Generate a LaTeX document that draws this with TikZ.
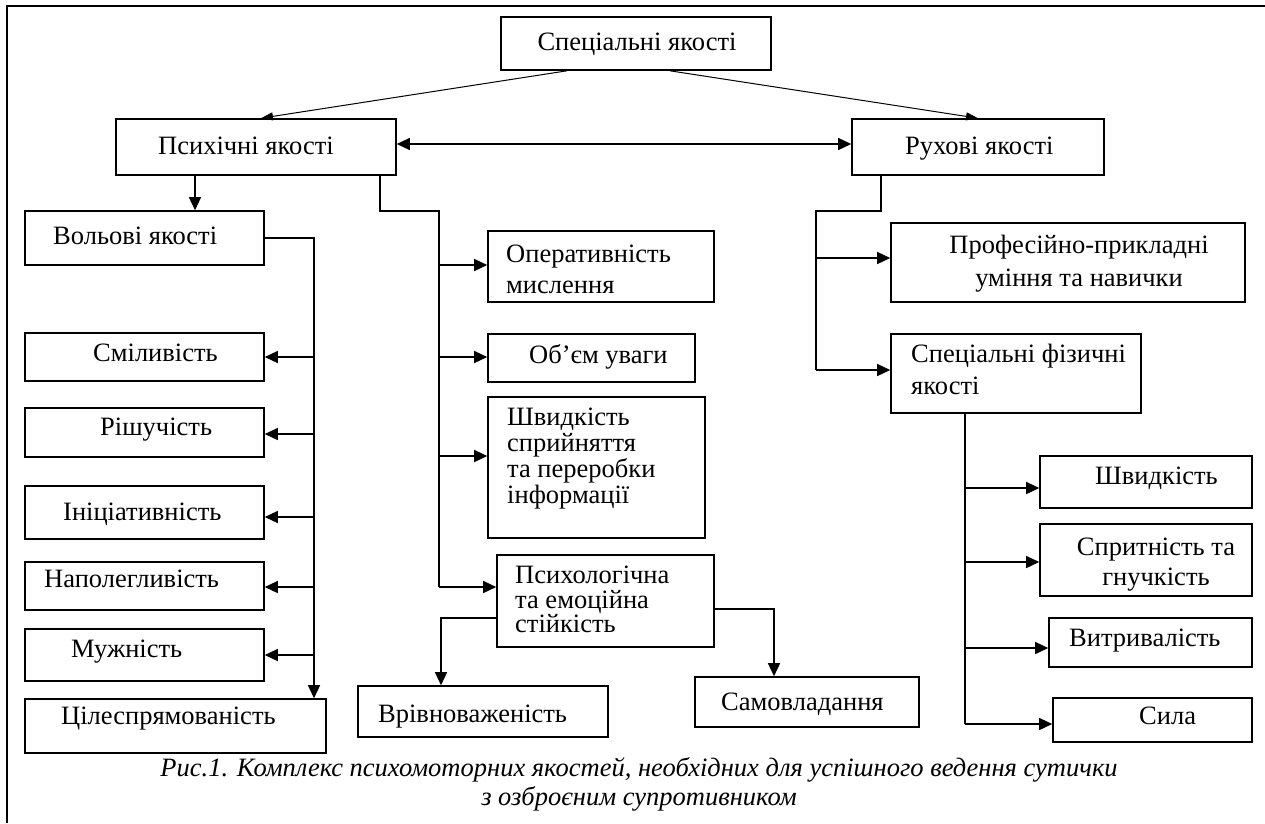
\documentclass[tikz,border=0pt]{standalone}
\usepackage{fontspec}
\setmainfont{Liberation Serif}
\usetikzlibrary{arrows.meta}
\tikzset{
  qb/.style={draw, line width=1.6pt, inner sep=0pt},
  tx/.style={inner sep=0pt, font=\fontsize{26.5}{31}\selectfont},
  con/.style={line width=1.4pt},
  arr/.style={con, -{Triangle[length=13pt,width=12pt]}},
  darr/.style={line width=1pt, -{Triangle[length=12pt,width=8pt]}},
}
\begin{document}
\begin{tikzpicture}[x=1pt,y=-1pt]
\useasboundingbox (0,0) rectangle (1265,823);
% frame
\draw[line width=1.2pt] (7,823) -- (7,6) -- (1265,6);

% boxes
\node[qb, minimum width=270pt, minimum height=53pt] (top) at (636,43.5) {};
\node[qb, minimum width=280pt, minimum height=56pt] (psy) at (256,147) {};
\node[qb, minimum width=252pt, minimum height=56pt] (ruh) at (978,147) {};
\node[qb, minimum width=239pt, minimum height=54pt] (vol) at (144.5,238) {};
\node[qb, minimum width=239pt, minimum height=48pt] (sm) at (144.5,357) {};
\node[qb, minimum width=239pt, minimum height=49pt] (ri) at (144.5,432.5) {};
\node[qb, minimum width=239pt, minimum height=53pt] (in) at (144.5,512.5) {};
\node[qb, minimum width=239pt, minimum height=48pt] (na) at (144.5,586) {};
\node[qb, minimum width=239pt, minimum height=52pt] (mu) at (144.5,655) {};
\node[qb, minimum width=301pt, minimum height=54pt] (cel) at (175.5,726) {};
\node[qb, minimum width=226pt, minimum height=71pt] (op) at (601,266.5) {};
\node[qb, minimum width=207pt, minimum height=48pt] (ob) at (591.5,358) {};
\node[qb, minimum width=217pt, minimum height=141pt] (shv) at (596.5,467.5) {};
\node[qb, minimum width=217pt, minimum height=92pt] (psh) at (605.5,601) {};
\node[qb, minimum width=250pt, minimum height=51pt] (vri) at (483,711.5) {};
\node[qb, minimum width=224pt, minimum height=50pt] (sam) at (807,702) {};
\node[qb, minimum width=354pt, minimum height=79pt] (prof) at (1068,262.5) {};
\node[qb, minimum width=250pt, minimum height=79pt] (spf) at (1016,373.5) {};
\node[qb, minimum width=212pt, minimum height=52pt] (shd) at (1146,482) {};
\node[qb, minimum width=212pt, minimum height=72pt] (spr) at (1146,560) {};
\node[qb, minimum width=203pt, minimum height=49pt] (vyt) at (1150.5,642.5) {};
\node[qb, minimum width=199pt, minimum height=44pt] (sil) at (1152.5,720) {};

% texts
\node[tx, anchor=base] (top-t) at (637,50) {Спеціальні якості};
\node[tx, anchor=base west] (psy-t) at (158,154) {Психічні якості};
\node[tx, anchor=base west] (ruh-t) at (905,154) {Рухові якості};
\node[tx, anchor=base west] (vol-t) at (53,244) {Вольові якості};
\node[tx, anchor=base west] (sm-t) at (93,361) {Сміливість};
\node[tx, anchor=base west] (ri-t) at (100,435.5) {Рішучість};
\node[tx, anchor=base west] (in-t) at (63,520) {Ініціативність};
\node[tx, anchor=base west] (na-t) at (44,587) {Наполегливість};
\node[tx, anchor=base west] (mu-t) at (71,657) {Мужність};
\node[tx, anchor=base west] (cel-t) at (61,724) {Цілеспрямованість};
\node[tx, anchor=north west, align=left] (op-t) at (506,245) {Оперативність\\мислення};
\node[tx, anchor=base west] (ob-t) at (529,363) {Об’єм уваги};
\node[tx, anchor=north west, align=left, font=\fontsize{26.5}{26}\selectfont] (shv-t) at (507,408) {Швидкість\\сприйняття\\та переробки\\інформації};
\node[tx, anchor=north west, align=left, font=\fontsize{26.5}{24.5}\selectfont] (psh-t) at (515,566) {Психологічна\\та емоційна\\стійкість};
\node[tx, anchor=base west] (vri-t) at (378,722) {Врівноваженість};
\node[tx, anchor=base west] (sam-t) at (721,710) {Самовладання};
\node[tx, anchor=north, align=center, font=\fontsize{26.5}{33}\selectfont] (prof-t) at (1079,235) {Професійно-прикладні\\уміння та навички};
\node[tx, anchor=north west, align=left, font=\fontsize{26.5}{32}\selectfont] (spf-t) at (911,344) {Спеціальні фізичні\\якості};
\node[tx, anchor=base west] (shd-t) at (1095,484) {Швидкість};
\node[tx, anchor=north, align=center, font=\fontsize{26.5}{30}\selectfont] (spr-t) at (1156,538) {Спритність та\\гнучкість};
\node[tx, anchor=base west] (vyt-t) at (1069,646) {Витривалість};
\node[tx, anchor=base west] (sil-t) at (1139,724) {Сила};

% caption
\node[tx, anchor=north, align=center, font=\fontsize{26.5}{29}\selectfont\itshape] (cap) at (639,757)
  {Рис.1. Комплекс психомоторних якостей, необхідних для успішного ведення сутички\\з озброєним супротивником};

% top diagonals
\draw[darr] ([xshift=-69pt]top.south) -- ([xshift=5pt]psy.north);
\draw[darr] ([xshift=34pt]top.south) -- (ruh.north);
% double arrow
\draw[con, {Triangle[length=13pt,width=12pt]}-{Triangle[length=13pt,width=12pt]}] ([yshift=3pt]psy.east) -- ([yshift=3pt]ruh.west);

% psy -> vol
\coordinate (pv) at ([xshift=-61pt]psy.south);
\draw[arr] (pv) -- (pv |- vol.north);

% vol branch
\coordinate (lv) at ([xshift=138.5pt]cel.north);
\draw[arr] (vol.east) -| (lv);
\coordinate (ria) at ([yshift=-1.5pt]ri.east);
\coordinate (ina) at ([yshift=-4.5pt]in.east);
\coordinate (naa) at ([yshift=-1pt]na.east);
\draw[arr] (lv |- sm.east) -- (sm.east);
\draw[arr] (lv |- ria) -- (ria);
\draw[arr] (lv |- ina) -- (ina);
\draw[arr] (lv |- naa) -- (naa);
\draw[arr] (lv |- mu.east) -- (mu.east);

% middle branch
\coordinate (m1) at (439,211);
\coordinate (opa) at ([yshift=1.5pt]op.west);
\coordinate (oba) at ([yshift=1pt]ob.west);
\coordinate (shva) at ([yshift=11.5pt]shv.west);
\coordinate (psha) at ([yshift=14pt]psh.west);
\draw[con] ([xshift=124pt]psy.south) |- (m1) -- (m1 |- psha);
\draw[arr] (m1 |- opa) -- (opa);
\draw[arr] (m1 |- oba) -- (oba);
\draw[arr] (m1 |- shva) -- (shva);
\draw[arr] (m1 |- psha) -- (psha);
\draw[arr] ([yshift=-17pt]psh.west) -| ([xshift=-42pt]vri.north);
\draw[arr] ([yshift=-8pt]psh.east) -| ([xshift=-33pt]sam.north);

% right branch
\coordinate (r1) at (816,211);
\coordinate (profa) at ([yshift=4.5pt]prof.west);
\coordinate (spfa) at ([yshift=3.5pt]spf.west);
\draw[con] ([xshift=-97pt]ruh.south) |- (r1) -- (r1 |- spfa);
\draw[arr] (r1 |- profa) -- (profa);
\draw[arr] (r1 |- spfa) -- (spfa);

% physical branch
\coordinate (sv) at ([xshift=-51pt]spf.south);
\coordinate (shda) at ([yshift=-6pt]shd.west);
\coordinate (spra) at ([yshift=-2pt]spr.west);
\coordinate (vyta) at ([yshift=-5.5pt]vyt.west);
\coordinate (sila) at ([yshift=-4pt]sil.west);
\draw[con] (sv) -- (sv |- sila);
\draw[arr] (sv |- shda) -- (shda);
\draw[arr] (sv |- spra) -- (spra);
\draw[arr] (sv |- vyta) -- (vyta);
\draw[arr] (sv |- sila) -- (sila);
\end{tikzpicture}
\end{document}
